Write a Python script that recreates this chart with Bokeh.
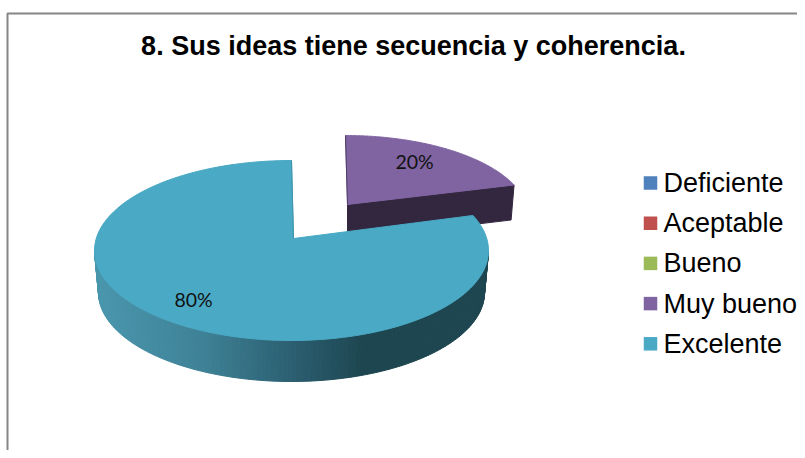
import numpy as np
from bokeh.plotting import figure
from bokeh.core.properties import value
from bokeh.embed import file_html
from bokeh.resources import INLINE

TITLE = "8. Sus ideas tiene secuencia y coherencia."
categories = ["Deficiente", "Aceptable", "Bueno", "Muy bueno", "Excelente"]
percent = [0, 0, 0, 20, 80]
colors = ["#4F81BD", "#C0504D", "#9BBB59", "#8064A2", "#4AA9C4"]

W, H = 797, 450
p = figure(width=W, height=H, output_backend="svg", toolbar_location=None,
           x_range=(0, W), y_range=(H, 0), min_border=0,
           x_axis_location=None, y_axis_location=None, outline_line_color=None)
p.grid.visible = False
p.background_fill_color = "white"
p.border_fill_color = "white"

# chart frame
p.line([7, 7, W], [H, 13, 13], line_color="#868686", line_width=2)

p.text([413], [45], text=[TITLE], text_align="center", text_baseline="middle",
       text_font=value("Liberation Sans"), text_font_style="bold",
       text_font_size="27px", text_color="#000000")

def warp(theta_deg):
    """Perspective foreshortening of a pie angle."""
    th = np.radians(theta_deg)
    return np.mod(np.arctan2(np.sin(th), 1.3 * np.cos(th)), 2 * np.pi)

def arc(cx, cy, rx, ry, a0, a1, n=160):
    t0 = warp(a0)
    t1 = warp(a1 % 360)
    if t1 <= t0:
        t1 += 2 * np.pi
    t = np.linspace(t0, t1, n)
    return cx + rx * np.sin(t), cy - ry * np.cos(t)

# slice geometry, in picture pixels
GEOM = {
    "Muy bueno": dict(vx=347, vy=204, cx=345, cy=216, rx=183, ry=81, depth=35),
    "Excelente": dict(vx=293, vy=238, cx=291, cy=250, rx=197, ry=90, depth=42),
}

angles = {}
cum = 0.0
for c, v in zip(categories, percent):
    angles[c] = (cum, cum + v * 3.6)
    cum += v * 3.6

# purple slice: front wall then top
g = GEOM["Muy bueno"]
a0, a1 = angles["Muy bueno"]
ax, ay = arc(g["cx"], g["cy"], g["rx"], g["ry"], a0, a1)
p.patch([g["vx"], ax[-1], ax[-1] - 3, g["vx"]],
        [g["vy"], ay[-1], ay[-1] + g["depth"], g["vy"] + g["depth"]],
        fill_color="#32273F", line_color="#32273F", line_width=1)
p.patch([g["vx"], *ax], [g["vy"], *ay], fill_color=colors[3], line_color=colors[3], line_width=1)
p.line([ax[0], g["vx"]], [ay[0], g["vy"]], line_color="#4E3D66", line_width=1)

# teal slice: shaded rim
g = GEOM["Excelente"]
stops_x = [94, 200, 300, 363, 490]
stops_r = [0x4A, 0x3F, 0x2A, 0x1E, 0x1E]
stops_g = [0x97, 0x82, 0x5C, 0x46, 0x46]
stops_b = [0xAE, 0x97, 0x6E, 0x50, 0x50]
rim = np.radians(np.linspace(90, 270, 141))
tx = g["cx"] + g["rx"] * np.sin(rim)
ty = g["cy"] - g["ry"] * np.cos(rim)
bx = g["cx"] + (g["rx"] - 4) * np.sin(rim)
by = g["cy"] + g["depth"] - (g["ry"] - 1) * np.cos(rim)
xs, ys, cols = [], [], []
for i in range(len(rim) - 1):
    xs.append([tx[i], tx[i + 1], bx[i + 1], bx[i]])
    ys.append([ty[i], ty[i + 1], by[i + 1], by[i]])
    m = (tx[i] + tx[i + 1]) / 2
    cols.append("#%02x%02x%02x" % (int(np.interp(m, stops_x, stops_r)),
                                   int(np.interp(m, stops_x, stops_g)),
                                   int(np.interp(m, stops_x, stops_b))))
p.patches(xs, ys, fill_color=cols, line_color=cols, line_width=1)

a0, a1 = angles["Excelente"]
ax, ay = arc(g["cx"], g["cy"], g["rx"], g["ry"], a0, a1)
p.patch([g["vx"], *ax], [g["vy"], *ay], fill_color=colors[4], line_color=colors[4], line_width=1)
p.line([ax[-1], g["vx"]], [ay[-1], g["vy"]], line_color="#3F93AA", line_width=1)

# data labels
p.text([414, 193], [161, 299], text=[f"{percent[3]}%", f"{percent[4]}%"],
       text_align="center", text_baseline="middle", text_font=value("Lato"),
       text_font_size="19.5px", text_color="#111111")

# legend
ly = [182.5 + 40.2 * i for i in range(len(categories))]
p.rect([650] * 5, ly, width=13.5, height=13.5, fill_color=colors, line_color=None)
p.text([663] * 5, ly, text=categories, text_align="left", text_baseline="middle",
       text_font=value("Liberation Sans"), text_font_size="27px", text_color="#000000")

open("out.html", "w").write(file_html(p, INLINE))
